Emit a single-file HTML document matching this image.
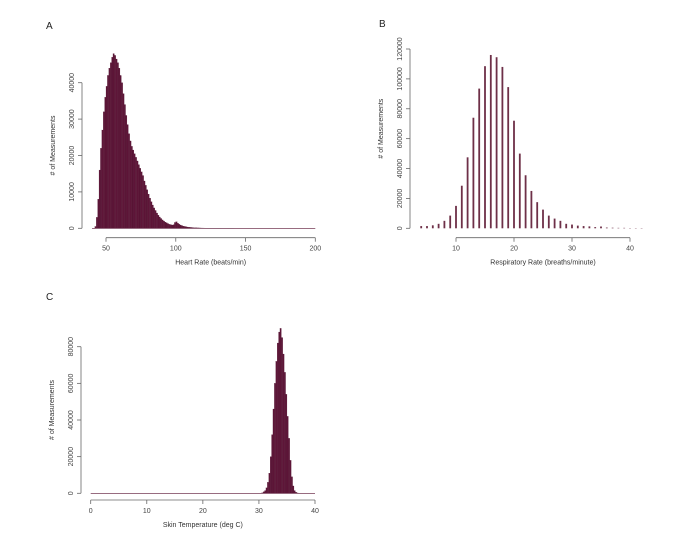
<!DOCTYPE html>
<html><head><meta charset="utf-8"><style>
body{margin:0;background:#fff;}
svg{display:block;font-family:"Liberation Sans",sans-serif;}
.tk{font-size:7px;fill:#444;}
.ttl{font-size:7px;fill:#333;}
.lt{font-size:10px;fill:#222;}
</style></head><body>
<svg id="c" width="700" height="541"></svg>
<script>
// Panel A: heart rate (bins start 42, width 1)
const hrStart = 42;
const hrValues = [500,3000,8000,16000,22000,27000,32000,36000,39000,42000,44000,45500,47000,48000,47500,46500,45500,44000,42000,40000,37000,34000,31000,28500,26000,24000,22500,21500,20500,19500,18500,17500,16500,15500,14500,13000,11800,10600,9400,8300,7300,6400,5600,4900,4200,3600,3100,2700,2300,2000,1700,1500,1300,1100,1000,900,1000,1600,1800,1400,1100,900,750,600,500,420,350,300,250,220,190,160,140,120,100,90,80,70,60,50,45,40,35,30,25,20,18,16,14,12,10,10,8,8,6,6,5,5,4,4];
const hrXTicks = [50,100,150,200];
const hrYTicks = [0,10000,20000,30000,40000];
// Panel B: respiratory rate
const rrCats = [4,5,6,7,8,9,10,11,12,13,14,15,16,17,18,19,20,21,22,23,24,25,26,27,28,29,30,31,32,33,34,35,36,37,38,39,40,41,42];
const rrValues = [1500,1500,2000,3000,5000,8500,15000,28500,47500,74000,93500,108500,116000,114500,108000,94500,72000,50000,35500,25000,17500,12500,8500,6500,5000,3000,2500,1800,1500,1300,800,1200,500,400,300,300,200,200,200];
const rrXTicks = [10,20,30,40];
const rrYTicks = [0,20000,40000,60000,80000,100000,120000];
// Panel C: skin temperature (bins start 30.5, width 0.25)
const stStart = 30.5;
const stValues = [300,800,1500,3000,6000,11000,20000,32000,46000,60000,72000,82000,88000,90000,85000,76000,66000,54000,42000,30000,18000,9000,4000,1500,600,200];
const stXTicks = [0,10,20,30,40];
const stYTicks = [0,20000,40000,60000,80000];

const NS="http://www.w3.org/2000/svg";
const svg=document.getElementById('c');
function mk(t,a,p){const e=document.createElementNS(NS,t);for(const k in a)e.setAttribute(k,a[k]);(p||svg).appendChild(e);return e;}

function axes(g,o){
  const xs=v=>o.x0+(v-o.xmin)/(o.xmax-o.xmin)*(o.x1-o.x0);
  const ys=v=>o.y0-(v/o.ymaxv)*(o.y0-o.ymaxp);
  // x axis
  const xa=mk('g',{},g);
  
  
  mk('line',{x1:xs(o.xt[0]),x2:xs(o.xt[o.xt.length-1]),y1:o.axy,y2:o.axy,stroke:'#666','stroke-width':0.8},xa);
  o.xt.forEach(t=>{
    mk('line',{x1:xs(t),x2:xs(t),y1:o.axy,y2:o.axy+4,stroke:'#666','stroke-width':0.8},xa);
    const tx=mk('text',{x:xs(t),y:o.axy+13,'text-anchor':'middle',class:'tk'},xa);tx.textContent=t;
    
    
  });
  const xt=mk('text',{x:(xs(o.xt[0])+xs(o.xt[o.xt.length-1]))/2,y:o.axy+27,'text-anchor':'middle',class:'ttl'},g);xt.textContent=o.xtitle;
  
  
  // y axis
  const ya=mk('g',{},g);
  
  
  mk('line',{x1:o.axx,x2:o.axx,y1:ys(o.yt[0]),y2:ys(o.yt[o.yt.length-1]),stroke:'#666','stroke-width':0.8},ya);
  o.yt.forEach(t=>{
    mk('line',{x1:o.axx,x2:o.axx-4,y1:ys(t),y2:ys(t),stroke:'#666','stroke-width':0.8},ya);
    const tx=mk('text',{x:o.axx-8,y:ys(t),'text-anchor':'middle',class:'tk',transform:`rotate(-90 ${o.axx-8} ${ys(t)})`},ya);tx.textContent=t;
    
    
  });
  const yc=(o.y0+o.ymaxp)/2 - 10;
  const yt=mk('text',{x:o.axx-27,y:yc,'text-anchor':'middle',class:'ttl',transform:`rotate(-90 ${o.axx-27} ${yc})`},g);yt.textContent='# of Measurements';
  
  
  const lt=mk('text',{x:o.lx,y:o.ly,class:'lt'},g);lt.textContent=o.letter;
  
  
  return {xs,ys};
}

// Panel A
const gA=mk('g',{});


const A=axes(gA,{x0:106,x1:315.3,xmin:50,xmax:200,y0:228.3,ymaxp:82.7,ymaxv:40000,axy:237.7,axx:82,xt:hrXTicks,yt:hrYTicks,xtitle:'Heart Rate (beats/min)',letter:'A',lx:46,ly:29});
mk('line',{x1:A.xs(40),x2:A.xs(200),y1:228.3,y2:228.3,stroke:'#5a1434','stroke-width':0.7},gA);
hrValues.forEach((v,i)=>{
  const b=mk('rect',{x:A.xs(hrStart+i),width:A.xs(1)-A.xs(0),y:A.ys(v),height:228.3-A.ys(v),fill:'#5e1538',stroke:'#4a0f2c','stroke-width':0.2},gA);
  
  
});

// Panel B
const gB=mk('g',{});


const B=axes(gB,{x0:456,x1:630,xmin:10,xmax:40,y0:228.3,ymaxp:49,ymaxv:120000,axy:237.7,axx:410,xt:rrXTicks,yt:rrYTicks,xtitle:'Respiratory Rate (breaths/minute)',letter:'B',lx:379,ly:27});
rrCats.forEach((c,i)=>{
  const v=rrValues[i];
  const b=mk('rect',{x:B.xs(c)-0.9,width:1.8,y:B.ys(v),height:228.3-B.ys(v),fill:'#6e3048'},gB);
  
  
});

// Panel C
const gC=mk('g',{});


const C=axes(gC,{x0:90.7,x1:315,xmin:0,xmax:40,y0:493.3,ymaxp:346.7,ymaxv:80000,axy:500,axx:81,xt:stXTicks,yt:stYTicks,xtitle:'Skin Temperature (deg C)',letter:'C',lx:46,ly:300});
mk('line',{x1:C.xs(0),x2:C.xs(40),y1:493.3,y2:493.3,stroke:'#5a1434','stroke-width':0.7},gC);
stValues.forEach((v,i)=>{
  const x=stStart+i*0.25;
  const b=mk('rect',{x:C.xs(x),width:C.xs(0.25)-C.xs(0),y:C.ys(v),height:493.3-C.ys(v),fill:'#5e1538',stroke:'#4a0f2c','stroke-width':0.2},gC);
  
  
});
</script>
</body></html>
